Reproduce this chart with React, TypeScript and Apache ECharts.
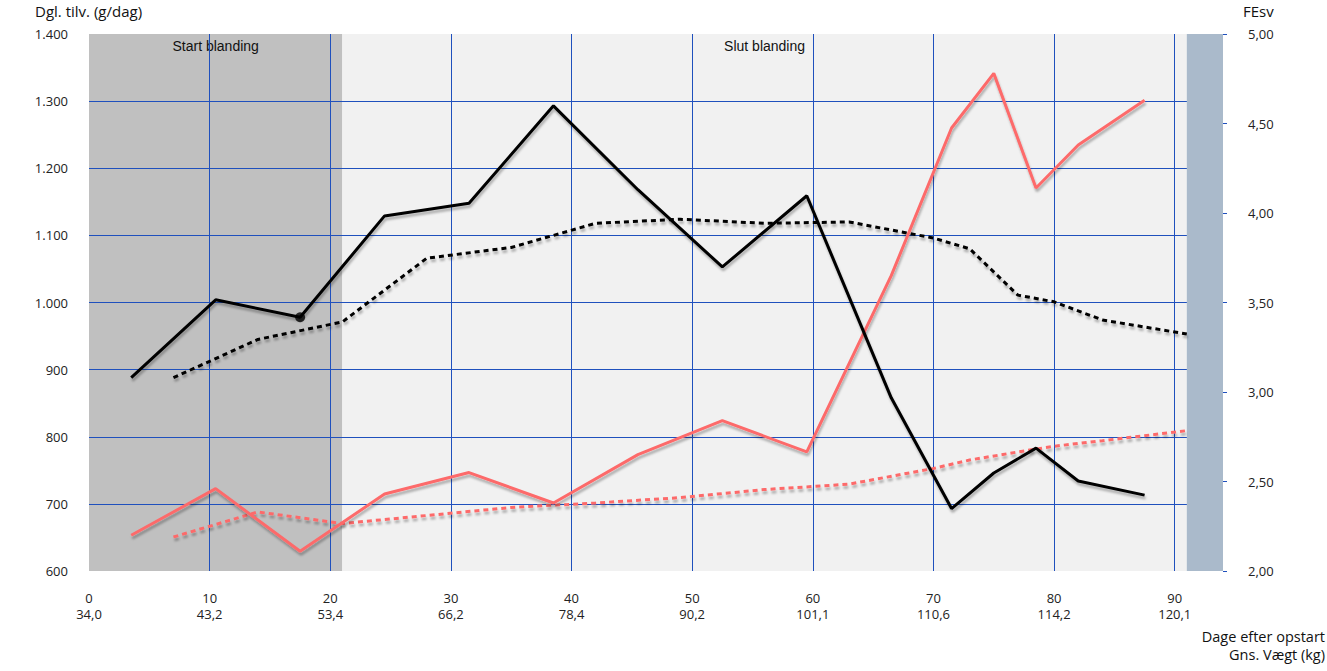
import React, { useEffect, useRef } from "react";
import * as echarts from "echarts";

// ---- data ----
const weeklyDays = [3.5, 10.5, 17.5, 24.5, 31.5, 38.5, 45.5, 52.5, 59.5, 66.5, 71.5, 75, 78.5, 82, 87.5];
const gainWeekly = [888, 1004, 978, 1129, 1148, 1293, 1168, 1053, 1159, 858, 693, 746, 783, 734, 713];
const feWeekly = [2.2, 2.46, 2.11, 2.43, 2.55, 2.38, 2.65, 2.84, 2.665, 3.65, 4.475, 4.78, 4.14, 4.38, 4.63];

const cumDays = [7, 14, 21, 28, 35, 42, 49, 56, 63, 70, 73, 77, 80, 84, 91];
const gainCum = [888, 945, 971, 1066, 1082, 1118, 1124, 1118, 1120, 1096, 1080, 1011, 1001, 974, 953];
const feCum = [2.19, 2.33, 2.265, 2.31, 2.355, 2.38, 2.41, 2.455, 2.485, 2.573, 2.62, 2.665, 2.697, 2.728, 2.784];

const markerIndex = 2;

const xTickDays = [0, 10, 20, 30, 40, 50, 60, 70, 80, 90];
const xTickWeights = ["34,0", "43,2", "53,4", "66,2", "78,4", "90,2", "101,1", "110,6", "114,2", "120,1"];

const phaseNames = ["Start blanding", "Slut blanding"];
const phaseStart = [0, 21];
const phaseEnd = [21, 91];
const tailStart = 91;
const xMax = 94;

const BLUE = "#1f50bd";
const RED = "#fd6a6a";
const LABEL_FONT = "'Open Sans', 'DejaVu Sans', sans-serif";

function pairs(xs: number[], ys: number[]) {
  return xs.map((x, i) => [x, ys[i]]);
}

export default function App() {
  const ref = useRef<HTMLDivElement>(null);

  useEffect(() => {
    if (!ref.current) return;
    const chart = echarts.init(ref.current, null, { renderer: "svg" });
    const shadow = {
      shadowColor: "rgba(0,0,0,0.28)",
      shadowBlur: 2,
      shadowOffsetX: 1,
      shadowOffsetY: 3,
    };
    const nameStyle = { fontSize: 15, lineHeight: 17, fontFamily: LABEL_FONT, fill: "#111" };
    const option: any = {
      animation: false,
      backgroundColor: "#ffffff",
      grid: { left: 89, right: 104, top: 34, bottom: 100, containLabel: false },
      xAxis: {
        type: "value",
        min: 0,
        max: xMax,
        interval: 10,
        axisLine: { show: false },
        axisTick: { show: false },
        splitLine: { show: true, showMinLine: false, showMaxLine: false, lineStyle: { color: BLUE, width: 1 } },
        axisLabel: {
          margin: 19,
          color: "#222",
          fontSize: 13,
          lineHeight: 16,
          fontFamily: LABEL_FONT,
          formatter: (v: number) => {
            const i = xTickDays.indexOf(Math.round(v));
            if (i < 0 || Math.abs(v - xTickDays[i]) > 1e-6) return "";
            return xTickDays[i] + "\n" + xTickWeights[i];
          },
        },
      },
      yAxis: [
        {
          type: "value",
          min: 600,
          max: 1400,
          interval: 100,
          axisLine: { show: false },
          axisTick: { show: false },
          splitLine: { show: true, showMinLine: false, showMaxLine: false, lineStyle: { color: BLUE, width: 1 } },
          axisLabel: {
            margin: 21,
            color: "#222",
            fontSize: 13,
            fontFamily: LABEL_FONT,
            formatter: (v: number) => (v >= 1000 ? Math.floor(v / 1000) + "." + String(v % 1000).padStart(3, "0") : String(v)),
          },
        },
        {
          type: "value",
          min: 2,
          max: 5,
          interval: 0.5,
          position: "right",
          axisLine: { show: true, lineStyle: { color: "rgba(0,0,0,0)" } },
          axisTick: { show: true, length: 4, lineStyle: { color: BLUE, width: 1 } },
          splitLine: { show: false },
          axisLabel: {
            margin: 25,
            color: "#222",
            fontSize: 13,
            fontFamily: LABEL_FONT,
            formatter: (v: number) => v.toFixed(2).replace(".", ","),
          },
        },
      ],
      graphic: [
        { type: "text", left: 35, top: 2, style: { text: "Dgl. tilv. (g/dag)", ...nameStyle } },
        { type: "text", left: 1243, top: 2, style: { text: "FEsv", ...nameStyle } },
        {
          type: "text",
          x: 1325,
          y: 627,
          style: {
            text: "Dage efter opstart\nGns. Vægt (kg)",
            align: "right",
            verticalAlign: "top",
            ...nameStyle,
            fontSize: 14.5,
            lineHeight: 18,
          },
        },
      ],
      series: [
        {
          name: "phases",
          type: "line",
          data: [],
          z: -1,
          silent: true,
          markArea: {
            silent: true,
            z: -1,
            label: {
              show: true,
              position: "insideTop",
              distance: 5,
              color: "#111",
              fontSize: 14,
              fontFamily: "'Liberation Sans', Arial, sans-serif",
            },
            data: [
              [
                { name: phaseNames[0], xAxis: phaseStart[0], itemStyle: { color: "#c0c0c0", opacity: 1 } },
                { xAxis: phaseEnd[0] },
              ],
              [
                { name: phaseNames[1], xAxis: phaseStart[1], itemStyle: { color: "#f1f1f1", opacity: 1 } },
                { xAxis: phaseEnd[1] },
              ],
            ],
          },
        },
        {
          name: "tail",
          type: "line",
          data: [],
          z: 1,
          silent: true,
          markArea: {
            silent: true,
            z: 1,
            label: { show: false },
            data: [[{ xAxis: tailStart, itemStyle: { color: "#aabacb", opacity: 1 } }, { xAxis: xMax }]],
          },
        },
        {
          name: "Gain cumulative",
          type: "line",
          yAxisIndex: 0,
          data: pairs(cumDays, gainCum),
          symbol: "none",
          lineStyle: { color: "#000", width: 3, type: [5, 4], ...shadow },
          z: 3,
        },
        {
          name: "FE cumulative",
          type: "line",
          yAxisIndex: 1,
          data: pairs(cumDays, feCum),
          symbol: "none",
          lineStyle: { color: RED, width: 3, type: [5, 4], ...shadow },
          z: 3,
        },
        {
          name: "FE weekly",
          type: "line",
          yAxisIndex: 1,
          data: pairs(weeklyDays, feWeekly),
          symbol: "none",
          lineStyle: { color: RED, width: 3, ...shadow },
          z: 4,
        },
        {
          name: "Gain weekly",
          type: "line",
          yAxisIndex: 0,
          data: pairs(weeklyDays, gainWeekly),
          symbol: "none",
          lineStyle: { color: "#000", width: 3, ...shadow },
          z: 5,
        },
        {
          name: "marker",
          type: "scatter",
          yAxisIndex: 0,
          data: [[weeklyDays[markerIndex], gainWeekly[markerIndex]]],
          symbol: "circle",
          symbolSize: 10,
          itemStyle: { color: "#000" },
          z: 6,
        },
      ],
    };
    chart.setOption(option);
    return () => chart.dispose();
  }, []);

  return <div ref={ref} style={{ width: 1327, height: 671, position: "absolute", left: 0, top: 0 }} />;
}
